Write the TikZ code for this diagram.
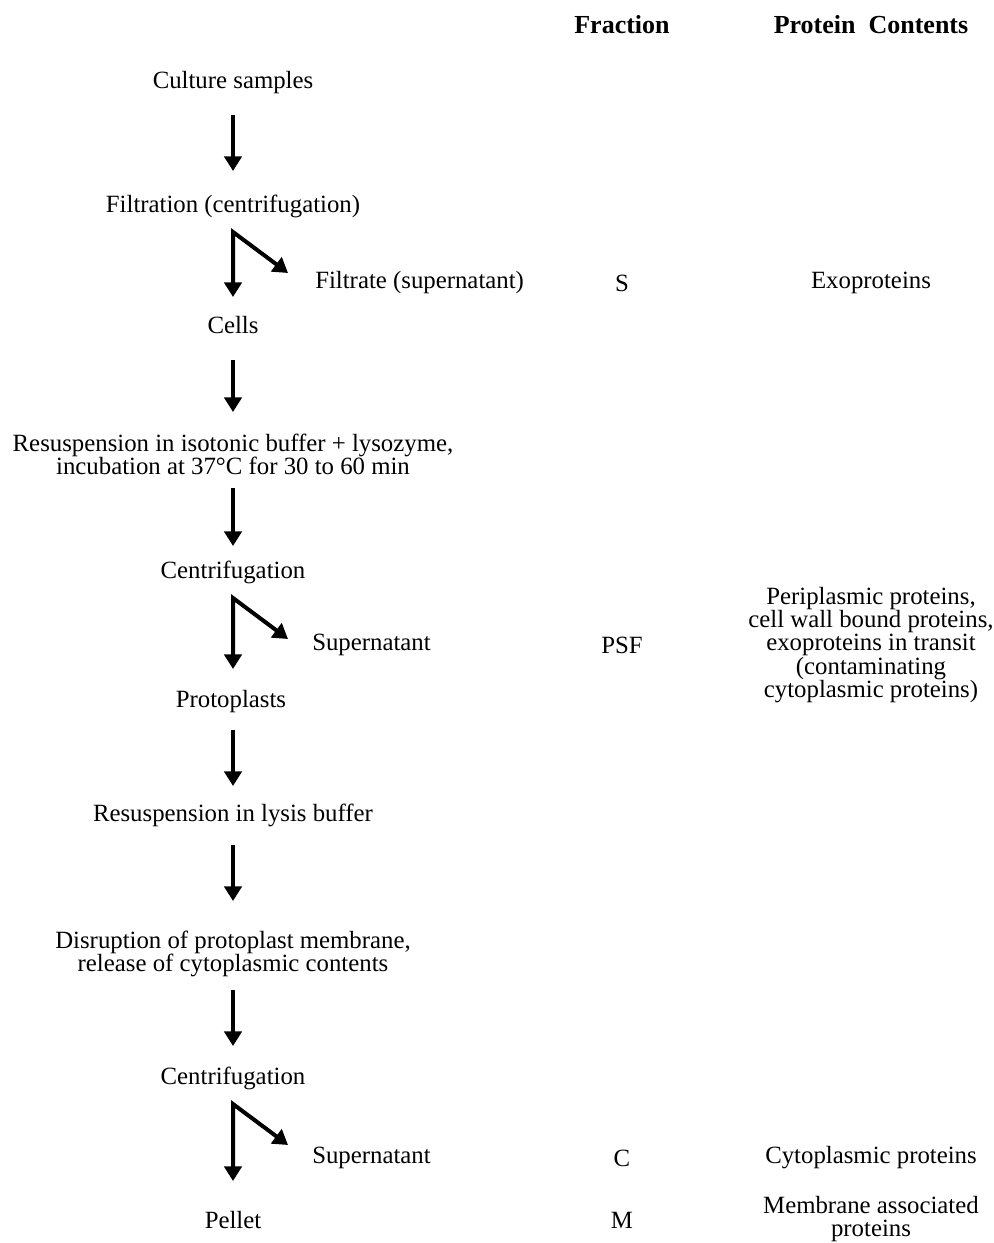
\documentclass[tikz,border=0pt]{standalone}
\usepackage{fontspec}
\setmainfont{Liberation Serif}
\usetikzlibrary{arrows.meta}
\begin{document}
\begin{tikzpicture}[x=0.75pt,y=-0.75pt,
  txt/.style={inner sep=0pt,align=center,font=\fontsize{18.6}{17.4}\selectfont},
  hdr/.style={inner sep=0pt,font=\fontsize{19.5}{18}\selectfont\bfseries},
  arr/.style={line width=3pt,-{Triangle[width=13pt,length=11pt]}},
  fork/.style={line width=3pt,{Triangle[width=13pt,length=11pt]}-{Triangle[width=13pt,length=11pt]},miter limit=10}]
\useasboundingbox (0,0) rectangle (993,1243);
% headers
\node[hdr] (hf) at (622,25) {Fraction};
\node[hdr] (hp) at (871,25) {Protein\ \ Contents};
% main column
\node[txt] (cs) at (233,83) {Culture samples};
\node[txt] (fil) at (233,206) {Filtration (centrifugation)};
\node[txt] (cells) at (233,325) {Cells};
\node[txt] (res1) at (233,454) {Resuspension in isotonic buffer + lysozyme,\\incubation at 37°C for 30 to 60 min};
\node[txt] (cen1) at (233,572) {Centrifugation};
\node[txt] (proto) at (231,702) {Protoplasts};
\node[txt] (res2) at (233,815) {Resuspension in lysis buffer};
\node[txt] (dis) at (233,954) {Disruption of protoplast membrane,\\release of cytoplasmic contents};
\node[txt] (cen2) at (233,1078) {Centrifugation};
\node[txt] (pel) at (233,1220) {Pellet};
% side branches
\node[txt,anchor=west] (s1) at (315,283) {Filtrate (supernatant)};
\node[txt,anchor=west] (s2) at (312,645) {Supernatant};
\node[txt,anchor=west] (s3) at (312,1158) {Supernatant};
% fractions
\node[txt] (fS) at (622,283) {S};
\node[txt] (fPSF) at (622,645) {PSF};
\node[txt] (fC) at (622,1158) {C};
\node[txt] (fM) at (622,1220) {M};
% protein contents
\node[txt] (pExo) at (871,283) {Exoproteins};
\node[txt] (pPeri) at (871,645) {Periplasmic proteins,\\cell wall bound proteins,\\exoproteins in transit\\(contaminating\\cytoplasmic proteins)};
\node[txt] (pCyt) at (871,1158) {Cytoplasmic proteins};
\node[txt] (pMem) at (871,1219) {Membrane associated\\proteins};
% straight arrows
\coordinate (a1s) at (233,115); \coordinate (a1e) at (233,171);
\draw[arr] (a1s) -- (a1e);
\coordinate (a2s) at (233,360); \coordinate (a2e) at (233,412);
\draw[arr] (a2s) -- (a2e);
\coordinate (a3s) at (233,488); \coordinate (a3e) at (233,546);
\draw[arr] (a3s) -- (a3e);
\coordinate (a4s) at (233,730); \coordinate (a4e) at (233,786);
\draw[arr] (a4s) -- (a4e);
\coordinate (a5s) at (233,845); \coordinate (a5e) at (233,901);
\draw[arr] (a5s) -- (a5e);
\coordinate (a6s) at (233,990); \coordinate (a6e) at (233,1046);
\draw[arr] (a6s) -- (a6e);
% forks
\coordinate (k1) at (233,232); \coordinate (k1d) at (233,297); \coordinate (k1t) at (288,273);
\draw[fork] (k1d) -- (k1) -- (k1t);
\coordinate (k2) at (233,598); \coordinate (k2d) at (233,669); \coordinate (k2t) at (288,639);
\draw[fork] (k2d) -- (k2) -- (k2t);
\coordinate (k3) at (233,1104); \coordinate (k3d) at (233,1181); \coordinate (k3t) at (288,1145);
\draw[fork] (k3d) -- (k3) -- (k3t);
\end{tikzpicture}
\end{document}
